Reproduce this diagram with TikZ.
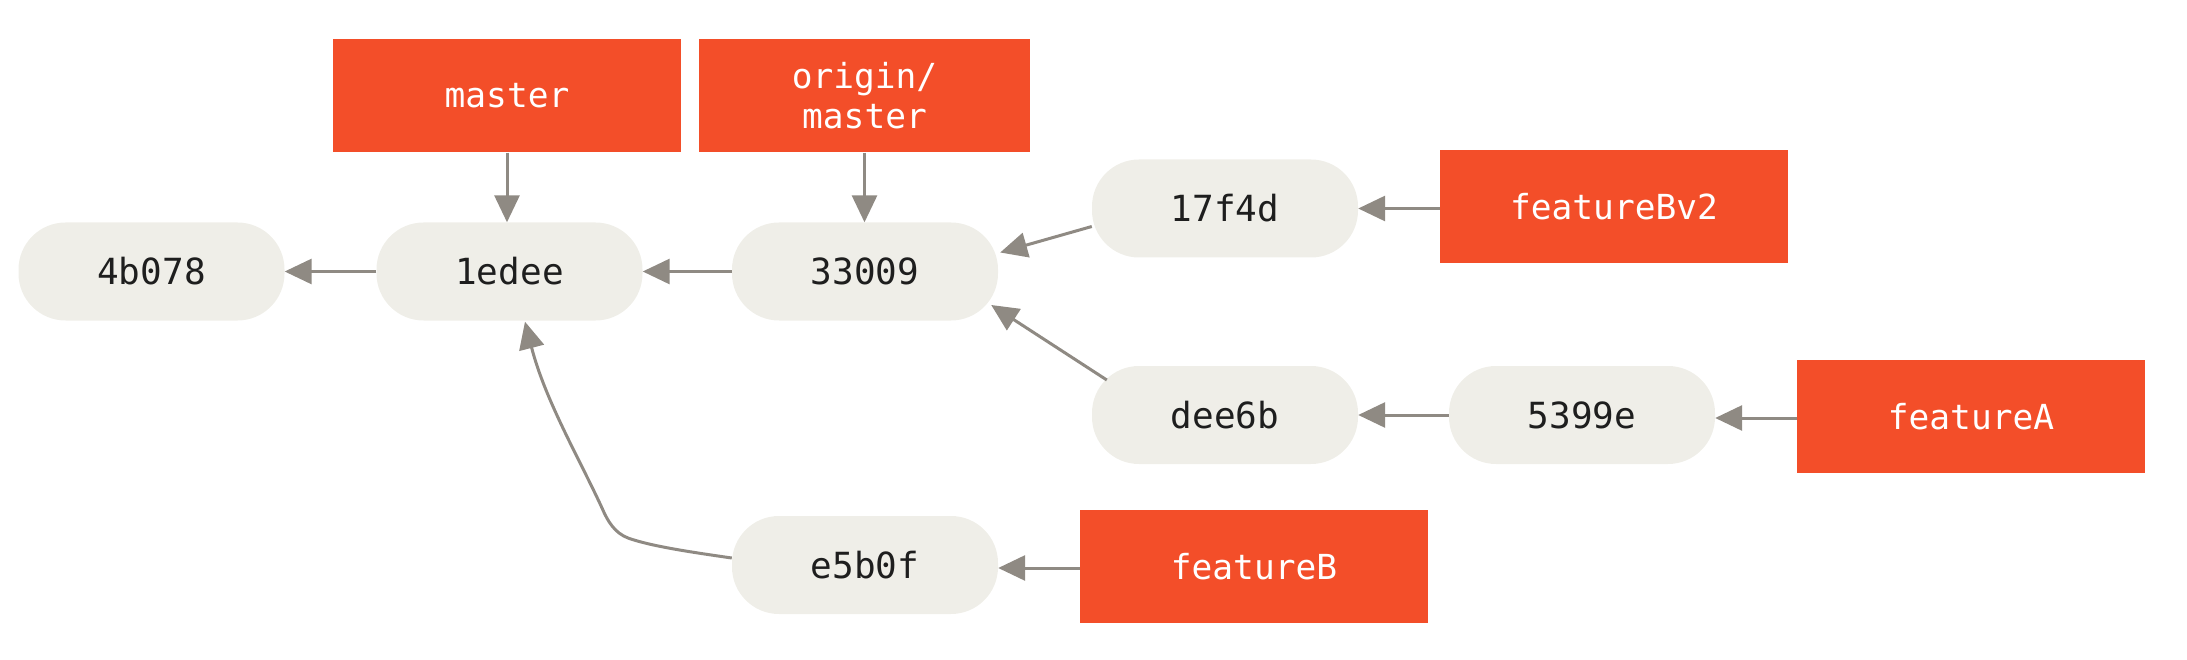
\documentclass[tikz,border=0pt]{standalone}
\usepackage{fontspec}
\setmonofont{DejaVu Sans Mono}
\usetikzlibrary{arrows.meta,calc}
\definecolor{gitorange}{RGB}{243,78,41}
\definecolor{commitfill}{RGB}{239,238,232}
\definecolor{arrowgray}{RGB}{143,138,131}
\definecolor{committext}{RGB}{30,30,30}
\begin{document}
\begin{tikzpicture}[x=1pt,y=-1pt,
  commit/.style={fill=commitfill, rounded corners=47pt, minimum width=266pt, minimum height=98pt, inner sep=0pt, font=\fontsize{36}{40}\selectfont\ttfamily, text=committext},
  refbox/.style={fill=gitorange, minimum width=348pt, minimum height=113pt, inner sep=0pt, font=\fontsize{34.5}{40}\selectfont\ttfamily, text=white, align=center},
  arr/.style={draw=arrowgray, line width=3pt, -{Triangle[length=27pt,width=25pt]}}
]
\useasboundingbox (0,0) rectangle (2187,660);

% commits
\node[commit] (c4b078) at (151.5,271.5) {4b078};
\node[commit] (c1edee) at (509.5,271.5) {1edee};
\node[commit] (c33009) at (865,271.5) {33009};
\node[commit] (c17f4d) at (1225,208.5) {17f4d};
\node[commit] (cdee6b) at (1225,415) {dee6b};
\node[commit] (c5399e) at (1582,415) {5399e};
\node[commit] (ce5b0f) at (865,565) {e5b0f};

% refs
\node[refbox] (master) at (507,96) {master};
\node[refbox, minimum width=331pt] (origin) at (864.5,96) {origin/\\master};
\node[refbox] (featureBv2) at (1614,207) {featureBv2};
\node[refbox] (featureA) at (1971,416.5) {featureA};
\node[refbox] (featureB) at (1254,566.5) {featureB};

% connectors
\draw[arr] (master.south) -- (master.south |- c1edee.north);
\draw[arr] (origin.south) -- (origin.south |- c33009.north);
\draw[arr] (c1edee.west) -- (c4b078.east);
\draw[arr] (c33009.west) -- (c1edee.east);
\draw[arr] ($(c17f4d.west)+(0,18)$) -- ($(c33009.east)+(2,-19)$);
\draw[arr] ($(cdee6b.west)+(15,-35)$) -- ($(c33009.east)+(-7,33.5)$);
\draw[arr] ($(ce5b0f.west)+(0,-7)$) .. controls (690,552) and (650,546) .. (628,538)
  .. controls (615,533) and (608,522) .. (602,508)
  .. controls (580,460) and (545,400) .. ($(c1edee.south)+(15.5,1)$);
\draw[arr] (featureBv2.west |- c17f4d.east) -- (c17f4d.east);
\draw[arr] (c5399e.west) -- (cdee6b.east);
\draw[arr] ($(featureA.west)+(0,1.5)$) -- ($(featureA.west -| c5399e.east)+(0,1.5)$);
\draw[arr] ($(featureB.west)+(0,1.5)$) -- ($(featureB.west -| ce5b0f.east)+(0,1.5)$);
\end{tikzpicture}
\end{document}
